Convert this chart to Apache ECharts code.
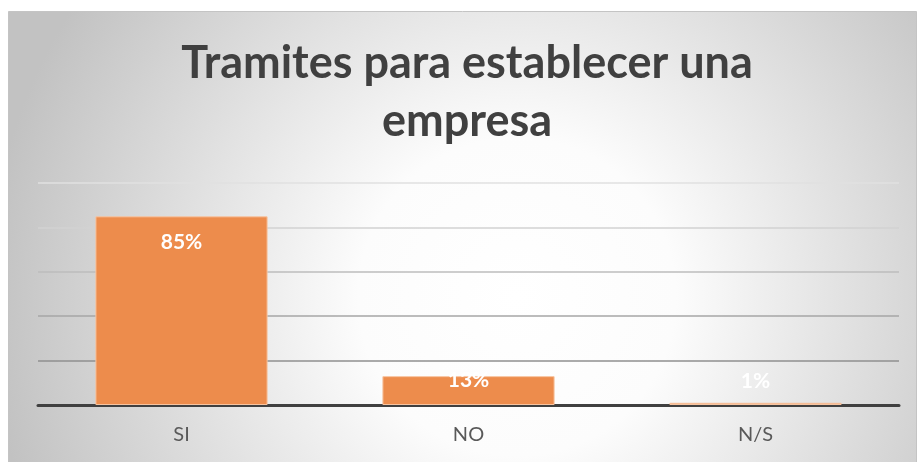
<!DOCTYPE html>
<html>
<head>
<meta charset="utf-8">
<style>
  html, body { margin: 0; padding: 0; background: #ffffff; }
  #chart { width: 918px; height: 462px; }
</style>
<script src="https://cdn.jsdelivr.net/npm/echarts@6/dist/echarts.min.js"></script>
</head>
<body>
<div id="chart"></div>
<script>
// Survey answers and their shares
const categories = ['SI', 'NO', 'N/S'];
const shares = [0.85, 0.13, 0.01];
const titleText = 'Tramites para establecer una\nempresa';

// label placement per bar (small bars get their label lifted above)
const labelOffsets = [26, 4, -22];

const chart = echarts.init(document.getElementById('chart'), null, { renderer: 'canvas' });

const barData = shares.map((v, i) => ({
  value: v,
  label: { position: ['50%', labelOffsets[i]] }
}));

chart.setOption({
  animation: false,
  graphic: [{
    type: 'rect',
    z: -10,
    shape: { x: 8.5, y: 11.5, width: 908, height: 460 },
    style: {
      fill: {
        type: 'radial', x: 0.56, y: 0.62, r: 1.15,
        colorStops: [
          { offset: 0, color: '#ffffff' },
          { offset: 0.3, color: '#fcfcfc' },
          { offset: 1, color: '#c2c2c2' }
        ]
      },
      stroke: '#c4c4c4',
      lineWidth: 1
    }
  }],
  title: {
    text: titleText,
    left: 462,
    textAlign: 'center',
    top: 29,
    textStyle: {
      fontFamily: 'Lato',
      fontWeight: 'bold',
      fontSize: 45,
      lineHeight: 58,
      color: '#404040'
    }
  },
  grid: { left: 38, right: 19, top: 183, bottom: 57 },
  xAxis: {
    type: 'category',
    data: categories,
    axisLine: { lineStyle: { color: '#404040', width: 3 } },
    axisTick: { show: false },
    axisLabel: {
      margin: 20,
      fontFamily: 'Lato',
      fontSize: 20,
      color: '#595959'
    }
  },
  yAxis: {
    type: 'value',
    min: 0,
    max: 1,
    interval: 0.2,
    axisLabel: { show: false },
    axisLine: { show: false },
    axisTick: { show: false },
    splitLine: {
      lineStyle: {
        width: 1.5,
        color: ['#8f8f8f', '#8f8f8f', '#a6a6a6', '#bdbdbd', '#d2d2d2', '#e0e0e0']
      }
    }
  },
  series: [{
    type: 'bar',
    data: barData,
    barWidth: '60%',
    itemStyle: {
      color: '#ed8c4c',
      borderColor: '#f7c4a0',
      borderWidth: 1
    },
    label: {
      show: true,
      align: 'center',
      verticalAlign: 'middle',
      formatter: p => Math.round(p.value * 100) + '%',
      fontFamily: 'Lato',
      fontWeight: 'bold',
      fontSize: 21,
      color: '#ffffff'
    }
  }]
});
</script>
</body>
</html>
